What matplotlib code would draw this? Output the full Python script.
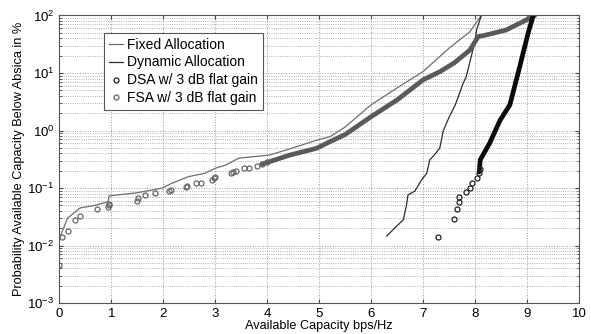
import matplotlib
matplotlib.use("Agg")
import matplotlib.pyplot as plt
from matplotlib.ticker import LogLocator, NullFormatter, FixedLocator

plt.rcParams['font.family'] = ['Liberation Sans', 'DejaVu Sans']

# Fixed Allocation (thin gray line)
fixed_x = [0.0, 0.05, 0.16, 0.4, 0.69, 0.94, 0.96, 1.51, 1.97, 2.16, 2.48, 2.8,
           3.0, 3.2, 3.45, 4.05, 4.5, 5.0, 5.21, 5.5, 6.0, 6.5, 7.0, 7.5, 7.9, 8.12]
fixed_y = [0.013, 0.017, 0.030, 0.045, 0.050, 0.058, 0.073, 0.083, 0.099, 0.12, 0.157, 0.18,
           0.22, 0.25, 0.33, 0.375, 0.5, 0.7, 0.78, 1.15, 2.8, 5.5, 10.6, 27, 52, 100]

# Dynamic Allocation (thin dark line)
dyn_x = [6.3, 6.45, 6.62, 6.68, 6.71, 6.84, 6.97, 7.07, 7.13, 7.2, 7.32, 7.39,
         7.5, 7.62, 7.77, 7.83, 7.99, 8.03, 8.12]
dyn_y = [0.0146, 0.02, 0.028, 0.05, 0.076, 0.088, 0.138, 0.18, 0.31, 0.36, 0.49, 1.0,
         1.7, 2.8, 6.6, 8.6, 33, 56, 100]

# FSA w/ 3 dB flat gain: sparse circles, then densely overlapping circles
fsa_x = [0.0, 0.05, 0.16, 0.31, 0.4, 0.72, 0.94, 0.95, 0.96, 1.5, 1.51, 1.65, 1.85,
         2.12, 2.15, 2.43, 2.46, 2.64, 2.72, 2.93, 2.97, 3.0, 3.3, 3.35, 3.4, 3.55,
         3.65, 3.8, 3.9, 4.0]
fsa_y = [0.0045, 0.014, 0.018, 0.028, 0.032, 0.043, 0.046, 0.050, 0.053, 0.060, 0.068,
         0.077, 0.082, 0.088, 0.092, 0.105, 0.11, 0.12, 0.12, 0.14, 0.15, 0.155, 0.185,
         0.19, 0.20, 0.22, 0.225, 0.24, 0.26, 0.28]
fsa_dense_x = [3.9, 4.44, 4.95, 5.21, 5.5, 6.0, 6.5, 7.0, 7.32, 7.6, 7.9, 8.06, 8.22,
               8.6, 8.92, 9.15]
fsa_dense_y = [0.26, 0.375, 0.49, 0.64, 0.85, 1.74, 3.4, 7.6, 10.5, 15, 25, 43, 46,
               56, 78, 100]

# DSA w/ 3 dB flat gain
dsa_x = [7.29, 7.60, 7.65, 7.69, 7.69, 7.82, 7.91, 7.95, 8.04, 8.07, 8.09]
dsa_y = [0.0142, 0.0285, 0.043, 0.058, 0.071, 0.086, 0.099, 0.12, 0.15, 0.18, 0.21]
dsa_dense_x = [8.08, 8.1, 8.28, 8.48, 8.67, 8.86, 9.02, 9.12]
dsa_dense_y = [0.19, 0.31, 0.6, 1.5, 2.8, 12.9, 49, 100]

fig = plt.figure(figsize=(5.91, 3.34), dpi=100)
ax = fig.add_axes([0.1003, 0.0928, 0.8794, 0.8608])

grid_c = '#9a9a9a'
ax.set_yscale('log')
ax.set_xlim(0, 10)
ax.set_ylim(1e-3, 1e2)
ax.xaxis.set_major_locator(FixedLocator(list(range(0, 11))))
ax.yaxis.set_major_locator(LogLocator(base=10, numticks=10))
ax.yaxis.set_minor_locator(LogLocator(base=10, subs=range(2, 10), numticks=20))
ax.yaxis.set_minor_formatter(NullFormatter())
ax.grid(True, which='major', axis='both', linestyle=':', color=grid_c, linewidth=0.7)
ax.grid(True, which='minor', axis='y', linestyle=':', color=grid_c, linewidth=0.6)
ax.set_axisbelow(True)

l1, = ax.plot(fixed_x, fixed_y, color='#6e6e6e', linewidth=0.9, label='Fixed Allocation')
l2, = ax.plot(dyn_x, dyn_y, color='#2e2e2e', linewidth=0.9, label='Dynamic Allocation')
ax.plot(fsa_dense_x, fsa_dense_y, color='#5a5a5a', linewidth=3.4, solid_capstyle='round')
ax.plot(dsa_dense_x, dsa_dense_y, color='#0a0a0a', linewidth=3.4, solid_capstyle='round')
l3, = ax.plot(dsa_x, dsa_y, linestyle='none', marker='o', markersize=3.6,
              markerfacecolor='none', markeredgecolor='#222222', markeredgewidth=0.9,
              label='DSA w/ 3 dB flat gain')
l4, = ax.plot(fsa_x, fsa_y, linestyle='none', marker='o', markersize=3.6,
              markerfacecolor='none', markeredgecolor='#666666', markeredgewidth=0.9,
              label='FSA w/ 3 dB flat gain')

ax.tick_params(which='both', direction='in', top=True, right=True, labelsize=9.5,
               color='#444444')
ax.tick_params(which='major', length=3)
ax.tick_params(which='minor', length=1.8)
for s in ax.spines.values():
    s.set_color('#555555')
    s.set_linewidth(0.8)

ax.set_xlabel('Available Capacity bps/Hz', fontsize=9.2, labelpad=0)
ax.set_ylabel('Probability Available Capacity Below Absica in %', fontsize=9.2, labelpad=2)

leg = ax.legend(handles=[l1, l2, l3, l4], loc='upper left', bbox_to_anchor=(0.087, 0.94),
                fontsize=10, handlelength=1.0, handletextpad=0.3, borderpad=0.35,
                labelspacing=0.28, fancybox=False, framealpha=1, edgecolor='#555555',
                borderaxespad=0)
leg.get_frame().set_linewidth(0.8)

fig.savefig('out.png', dpi=100)
